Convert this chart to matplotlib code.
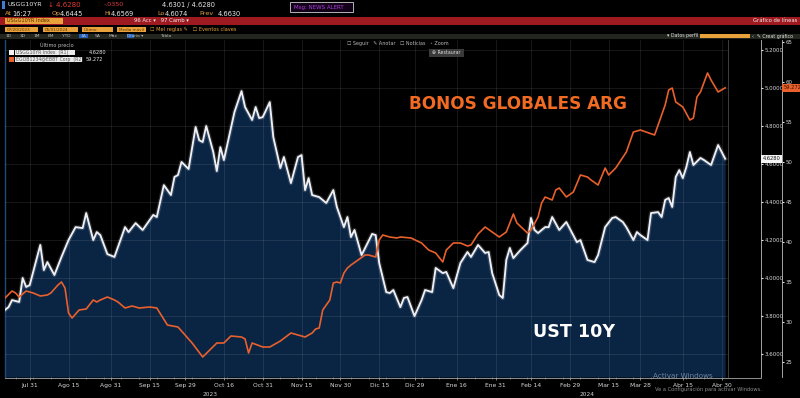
import numpy as np
import matplotlib
matplotlib.use("Agg")
import matplotlib.pyplot as plt
from matplotlib.patches import Rectangle
from matplotlib.lines import Line2D
import matplotlib.transforms as mtransforms

# ---------------- data ----------------
start_date = "2023-07-20"

ust_dates = [
    "2023-07-20", "2023-07-21", "2023-07-24", "2023-07-26", "2023-07-27", "2023-07-28", "2023-07-31",
    "2023-08-03", "2023-08-04", "2023-08-07", "2023-08-09", "2023-08-11", "2023-08-15", "2023-08-17",
    "2023-08-21", "2023-08-22", "2023-08-24", "2023-08-25", "2023-08-28", "2023-08-30", "2023-09-01",
    "2023-09-06", "2023-09-07", "2023-09-11", "2023-09-13", "2023-09-18", "2023-09-19", "2023-09-21",
    "2023-09-25", "2023-09-26", "2023-09-27", "2023-09-28", "2023-10-02", "2023-10-04", "2023-10-05",
    "2023-10-06", "2023-10-09", "2023-10-11", "2023-10-12", "2023-10-13", "2023-10-16", "2023-10-19",
    "2023-10-23", "2023-10-24", "2023-10-26", "2023-10-27", "2023-10-30", "2023-10-31", "2023-11-02",
    "2023-11-03", "2023-11-07", "2023-11-08", "2023-11-10", "2023-11-14", "2023-11-15", "2023-11-16",
    "2023-11-17", "2023-11-20", "2023-11-22", "2023-11-24", "2023-11-28", "2023-11-29", "2023-12-01",
    "2023-12-04", "2023-12-05", "2023-12-06", "2023-12-08", "2023-12-13", "2023-12-14", "2023-12-15",
    "2023-12-19", "2023-12-20", "2023-12-21", "2023-12-25", "2023-12-26", "2023-12-27", "2023-12-29",
    "2024-01-02", "2024-01-03", "2024-01-05", "2024-01-08", "2024-01-10", "2024-01-11", "2024-01-15",
    "2024-01-17", "2024-01-19", "2024-01-22", "2024-01-24", "2024-01-26", "2024-01-29", "2024-01-30",
    "2024-02-01", "2024-02-02", "2024-02-05", "2024-02-06", "2024-02-07", "2024-02-09", "2024-02-13",
    "2024-02-14", "2024-02-15", "2024-02-16", "2024-02-20", "2024-02-21", "2024-02-22", "2024-02-26",
    "2024-02-28", "2024-03-04", "2024-03-05", "2024-03-06", "2024-03-07", "2024-03-11", "2024-03-12",
    "2024-03-14", "2024-03-18", "2024-03-19", "2024-03-21", "2024-03-22", "2024-03-26", "2024-03-27",
    "2024-03-28", "2024-04-01", "2024-04-02", "2024-04-04", "2024-04-05", "2024-04-08", "2024-04-09",
    "2024-04-10", "2024-04-11", "2024-04-12", "2024-04-15", "2024-04-16", "2024-04-17", "2024-04-18",
    "2024-04-22", "2024-04-23", "2024-04-25", "2024-04-29", "2024-05-01",
]
ust_values = [
    3.832, 3.847, 3.884, 3.874, 4.000, 3.953, 3.963,
    4.174, 4.042, 4.084, 4.016, 4.111, 4.200, 4.268,
    4.263, 4.342, 4.200, 4.242, 4.226, 4.126, 4.111,
    4.268, 4.242, 4.289, 4.253, 4.332, 4.321, 4.489,
    4.437, 4.532, 4.542, 4.611, 4.574, 4.795, 4.726,
    4.716, 4.800, 4.663, 4.563, 4.689, 4.621, 4.874,
    4.984, 4.900, 4.832, 4.900, 4.842, 4.847, 4.926,
    4.742, 4.579, 4.637, 4.500, 4.637, 4.647, 4.463,
    4.526, 4.437, 4.426, 4.395, 4.463, 4.374, 4.268,
    4.321, 4.216, 4.253, 4.121, 4.232, 4.226, 4.079,
    3.926, 3.921, 3.937, 3.847, 3.895, 3.900, 3.800,
    3.884, 3.937, 3.926, 4.053, 4.026, 4.032, 3.947,
    4.079, 4.137, 4.111, 4.174, 4.132, 4.137, 4.026,
    3.911, 3.895, 4.095, 4.158, 4.105, 4.147, 4.184,
    4.316, 4.253, 4.237, 4.268, 4.268, 4.321, 4.253,
    4.295, 4.189, 4.200, 4.147, 4.095, 4.084, 4.121,
    4.268, 4.316, 4.321, 4.295, 4.268, 4.200, 4.242,
    4.226, 4.200, 4.342, 4.347, 4.321, 4.411, 4.421,
    4.374, 4.532, 4.568, 4.526, 4.584, 4.663, 4.595,
    4.632, 4.621, 4.595, 4.700, 4.628,
]

arg_dates = [
    "2023-07-20", "2023-07-24", "2023-07-25", "2023-07-26", "2023-07-28", "2023-08-01", "2023-08-03",
    "2023-08-07", "2023-08-08", "2023-08-10", "2023-08-11", "2023-08-14", "2023-08-15", "2023-08-16",
    "2023-08-18", "2023-08-22", "2023-08-24", "2023-08-25", "2023-08-28", "2023-08-30", "2023-09-01",
    "2023-09-04", "2023-09-06", "2023-09-08", "2023-09-12", "2023-09-15", "2023-09-19", "2023-09-22",
    "2023-09-27", "2023-10-03", "2023-10-06", "2023-10-10", "2023-10-12", "2023-10-16", "2023-10-18",
    "2023-10-23", "2023-10-24", "2023-10-25", "2023-10-26", "2023-10-31", "2023-11-02", "2023-11-07",
    "2023-11-10", "2023-11-16", "2023-11-20", "2023-11-21", "2023-11-22", "2023-11-23", "2023-11-27",
    "2023-11-28", "2023-11-29", "2023-11-30", "2023-12-01", "2023-12-04", "2023-12-05", "2023-12-07",
    "2023-12-11", "2023-12-12", "2023-12-14", "2023-12-15", "2023-12-18", "2023-12-20", "2023-12-22",
    "2023-12-25", "2023-12-28", "2024-01-02", "2024-01-04", "2024-01-08", "2024-01-10", "2024-01-11",
    "2024-01-15", "2024-01-17", "2024-01-19", "2024-01-22", "2024-01-24", "2024-01-26", "2024-02-01",
    "2024-02-05", "2024-02-07", "2024-02-08", "2024-02-13", "2024-02-14", "2024-02-16", "2024-02-19",
    "2024-02-20", "2024-02-22", "2024-02-23", "2024-02-26", "2024-02-28", "2024-03-01", "2024-03-05",
    "2024-03-07", "2024-03-08", "2024-03-12", "2024-03-14", "2024-03-15", "2024-03-19", "2024-03-22",
    "2024-03-26", "2024-03-28", "2024-04-03", "2024-04-04", "2024-04-08", "2024-04-09", "2024-04-10",
    "2024-04-11", "2024-04-15", "2024-04-17", "2024-04-18", "2024-04-19", "2024-04-22", "2024-04-24",
    "2024-04-25", "2024-04-29", "2024-05-01",
]
arg_values = [
    33.000, 33.875, 33.625, 33.125, 33.875, 33.625, 33.250,
    33.375, 33.625, 34.625, 35.000, 34.250, 31.125, 30.500,
    31.500, 31.625, 32.750, 32.500, 32.750, 33.125, 32.750,
    32.500, 31.750, 32.000, 31.750, 31.875, 31.750, 29.625,
    29.375, 27.375, 25.625, 26.500, 27.375, 27.375, 28.250,
    28.125, 27.875, 26.125, 27.375, 26.875, 26.875, 27.625,
    28.625, 28.125, 28.625, 29.125, 29.250, 31.500, 32.750,
    34.875, 35.000, 34.875, 36.125, 36.750, 37.125, 37.750,
    38.375, 38.375, 38.125, 40.250, 40.875, 40.625, 40.500,
    40.625, 40.500, 39.875, 39.000, 38.625, 37.500, 39.000,
    39.875, 39.875, 39.500, 39.625, 41.000, 41.875, 40.625,
    41.250, 43.500, 42.375, 41.125, 41.500, 43.125, 44.875,
    45.625, 45.250, 46.500, 46.750, 45.625, 46.250, 48.375,
    48.125, 47.750, 47.125, 49.250, 48.375, 49.250, 51.250,
    53.750, 54.000, 53.375, 54.625, 57.125, 59.000, 59.250,
    57.500, 56.875, 55.250, 55.500, 58.125, 58.750, 61.125,
    60.250, 58.750, 59.272,
]

tick_dates = [
    "2023-07-31", "2023-08-15", "2023-08-31", "2023-09-15", "2023-09-29", "2023-10-16",
    "2023-10-31", "2023-11-15", "2023-11-30", "2023-12-15", "2023-12-29", "2024-01-16",
    "2024-01-31", "2024-02-14", "2024-02-29", "2024-03-15", "2024-03-28", "2024-04-15",
    "2024-04-30",
]
tick_labels = [
    "Jul 31", "Ago 15", "Ago 31", "Sep 15", "Sep 29", "Oct 16", "Oct 31", "Nov 15",
    "Nov 30", "Dic 15", "Dic 29", "Ene 16", "Ene 31", "Feb 14", "Feb 29", "Mar 15",
    "Mar 28", "Abr 15", "Abr 30",
]
year_dates = ["2023-10-10", "2024-03-07"]
year_labels = ["2023", "2024"]

ust_ticks = [3.6, 3.8, 4.0, 4.2, 4.4, 4.6, 4.8, 5.0, 5.2]
arg_ticks = [25, 30, 35, 40, 45, 50, 55, 60, 65]
ust_last = 4.6280
arg_last = 59.272

# ---------------- positions on a trading-day scale ----------------
def bpos(dates):
    return np.busday_count(start_date, np.array(dates, dtype="datetime64[D]"))

ust_x = bpos(ust_dates)
arg_x = bpos(arg_dates)
tick_x = bpos(tick_dates)
year_x = bpos(year_dates)

# ---------------- figure ----------------
W, H = 800, 398
fig = plt.figure(figsize=(8.0, 3.98), dpi=100, facecolor="black")
plt.rcParams["font.family"] = ["DejaVu Sans"]


def fx(x):
    return x / W


def fy(y):
    return 1 - y / H


def rect(x0, y0, x1, y1, fc, ec="none", lw=0.0, z=1):
    fig.add_artist(Rectangle((fx(x0), fy(y1)), (x1 - x0) / W, (y1 - y0) / H,
                             transform=fig.transFigure, facecolor=fc,
                             edgecolor=ec, linewidth=lw, zorder=z))


def txt(x, y, s, c="#e6e6e6", fs=4.6, **kw):
    fig.text(fx(x), fy(y), s, color=c, fontsize=fs, va="center", zorder=5, **kw)


ORANGE_UI = "#e9a23b"
LBL = "#e0a040"

# ---- header row 1
rect(2, 1, 4.5, 9, "#3b7dd8")
txt(8, 5, "USGG10YR", "#e8e8e8", 4.6)
txt(48, 5, "↓ 4.6280", "#e23b3b", 5.0)
txt(104, 5, "-.0350", "#e23b3b", 4.6)
txt(162, 5, "4.6301 / 4.6280", "#e8e8e8", 4.8)
rect(290, 2, 353, 12, "#120018", ec="#d0d0d0", lw=0.6)
txt(294, 7, "Msg: NEWS ALERT", "#b040e0", 4.0)

# ---- header row 2
for x_l, lab, x_v, val in [(5, "At", 12, "16:27"), (52, "Op", 60, "4.6445"),
                          (104, "Hi", 111, "4.6569"), (157, "Lo", 165, "4.6074"),
                          (199, "Prev", 218, "4.6630")]:
    txt(x_l, 13.5, lab, LBL, 4.6)
    txt(x_v, 13.5, val, "#e8e8e8", 4.8)

# ---- red bar
rect(0, 17, 800, 24.5, "#9e1a20")
rect(5, 18, 63, 23.5, ORANGE_UI)
txt(7, 20.8, "USGG10YR Index", "#5a3000", 3.6)
txt(134, 20.8, "96 Acc ▾   97 Camb ▾", "#f0f0f0", 3.8)
txt(797, 20.8, "Gráfico de líneas", "#f0f0f0", 3.8, ha="right")

# ---- row 4 (date boxes)
for a, b, s in [(5, 38, "07/20/2023"), (43, 78, "05/01/2024"), (82, 113, "Último"),
                (117, 146, "Media móvil")]:
    rect(a, 27, b, 32, ORANGE_UI)
    txt(a + 2, 29.6, s, "#5a3000", 3.0)
txt(150, 29.6, "☐ Mel reglas ✎   ☐ Eventos claves", ORANGE_UI, 3.6)

# ---- row 5 (toolbar)
rect(0, 33.5, 800, 38.5, "#23251f")
xpos = 6
for s in ["1D", "3D", "1M", "6M", "YTD", "1A", "5A", "Máx", "Diario ▾"]:
    if s == "1A":
        rect(xpos - 1.5, 33.8, xpos + 7, 38.2, "#1f5fbf")
    txt(xpos, 36, s, "#bdbdbd", 3.2)
    xpos += 4.5 * len(s) + 5
rect(127, 33.8, 134, 38.2, "#1f5fbf")
txt(160, 36, "Tabla", "#bdbdbd", 3.2)
txt(667, 36, "▾ Datos perfil", "#e0e0e0", 3.4)
rect(700, 33.6, 750, 38.4, ORANGE_UI)
txt(752, 36, "‹  ✎ Creat gráfico", "#e0e0e0", 3.4)

# ---- main axes
ax_l, ax_r, ax_t, ax_b = 5, 728, 40, 377
ax = fig.add_axes([fx(ax_l), fy(ax_b), (ax_r - ax_l) / W, (ax_b - ax_t) / H])
ax.set_facecolor("black")
ust_lo, ust_hi = 3.479, 5.253
ax.set_xlim(0, 204.8)
ax.set_ylim(ust_lo, ust_hi)

# secondary axis (Argentine bonds) created first so the primary ticks stay right
ax2 = ax.twinx()
ax2.set_ylim(23.125, 65.25)

ax.fill_between(ust_x, ust_values, ust_lo, color="#0a2444", lw=0, zorder=1)
ax.plot(ust_x, ust_values, color="white", lw=3.2, alpha=0.15, zorder=3,
        solid_joinstyle="round")
ax.plot(ust_x, ust_values, color="#eef0f6", lw=1.35, zorder=4,
        solid_joinstyle="round")

ax.set_xticks(tick_x)
ax.set_xticklabels(tick_labels)
ax.set_xticks(np.arange(3, 205, 5), minor=True)
ax.set_yticks(ust_ticks)
ax.set_yticklabels([f"{v:.4f}" for v in ust_ticks])
ax.set_axisbelow(False)
ax.grid(True, which="major", color="white", alpha=0.09, lw=0.8)

ax.tick_params(axis="x", which="major", length=2, width=0.6, color="#9a9a9a",
               labelsize=4.3, labelcolor="#d8d8d8", pad=2.5)
ax.tick_params(axis="x", which="minor", length=1.3, width=0.5, color="#7a7a7a")
ax.yaxis.tick_right()
ax.tick_params(axis="y", which="major", left=False, labelleft=False,
               right=True, labelright=True, direction="out", length=1.5,
               width=0.8, color="#e0e0e0", labelsize=3.9, labelcolor="#d8d8d8",
               pad=1)

for s in ["top", "bottom"]:
    ax.spines[s].set_visible(False)
ax.spines["left"].set_color("#1f4a80")
ax.spines["left"].set_linewidth(1.0)
ax.spines["right"].set_position(("axes", (761 - ax_l) / (ax_r - ax_l)))
ax.spines["right"].set_color("#bdbdbd")
ax.spines["right"].set_linewidth(0.6)

# frame line at plot edge and x axis base
ax.add_line(Line2D([1, 1], [0, 1], transform=ax.transAxes, color="#4a4a4a",
                   lw=0.6, clip_on=False, zorder=6))
ax.add_line(Line2D([0, (761 - ax_l) / (ax_r - ax_l)], [-0.003, -0.003],
                   transform=ax.transAxes, color="#a8a8a8", lw=0.6,
                   clip_on=False, zorder=6))

# year labels
trans_xb = mtransforms.blended_transform_factory(ax.transData, ax.transAxes)
for xv, lab in zip(year_x, year_labels):
    ax.text(xv, -0.045, lab, transform=trans_xb, fontsize=4.2, color="#d0d0d0",
            ha="center", va="top", clip_on=False)

# orange series on secondary axis
ax2.plot(arg_x, arg_values, color="#e8602c", lw=1.2, zorder=5,
         solid_joinstyle="round")
ax2.set_yticks(arg_ticks)
ax2.set_yticklabels([str(v) for v in arg_ticks])
for s in ["top", "bottom", "left"]:
    ax2.spines[s].set_visible(False)
ax2.spines["right"].set_position(("axes", (782 - ax_l) / (ax_r - ax_l)))
ax2.spines["right"].set_color("#bdbdbd")
ax2.spines["right"].set_linewidth(0.6)
ax2.tick_params(axis="y", direction="out", length=1.5, width=0.8,
                color="#e0e0e0", labelsize=3.9, labelcolor="#d8d8d8", pad=1)

# last value tags
t1 = mtransforms.blended_transform_factory(ax.transAxes, ax.transData)
ax.text((761 - ax_l) / (ax_r - ax_l) + 0.002, ust_last, f"{ust_last:.4f}",
        transform=t1, fontsize=3.7, color="#111111", ha="left", va="center",
        bbox=dict(boxstyle="square,pad=0.3", fc="#f4f4f4", ec="none"),
        clip_on=False, zorder=10)
t2 = mtransforms.blended_transform_factory(ax2.transAxes, ax2.transData)
ax2.text((782 - ax_l) / (ax_r - ax_l) + 0.002, arg_last, f"{arg_last:.3f}",
         transform=t2, fontsize=3.7, color="#3a1000", ha="left", va="center",
         bbox=dict(boxstyle="square,pad=0.3", fc="#e8602c", ec="none"),
         clip_on=False, zorder=10)

# ---- overlays inside chart
txt(347, 43.5, "☐ Seguir   ✎ Anotar   ☐ Noticias   ◦ Zoom", "#b8b8b8", 3.5)
rect(429, 49, 464, 56.5, "#3a3a3a", z=4)
txt(432, 52.7, "⊕ Restaurar", "#dcdcdc", 3.4)

txt(40, 45.5, "Último precio", "#bdbdbd", 3.6)
rect(9, 50, 13.5, 54.5, "#f2f2f2", z=4)
rect(15, 49.5, 75, 55, "#e9e9e9", z=4)
txt(16.5, 52.3, "USGG10YR Index  (R1)", "#555555", 3.3)
txt(89, 52.3, "4.6280", "#e8e8e8", 3.6)
rect(9, 57, 13.5, 61.5, "#e8602c", z=4)
rect(15, 56.5, 82, 62, "#e9e9e9", z=4)
txt(16.5, 59.3, "EGOB1234@EBBT Corp  (R2)", "#555555", 3.3)
txt(86, 59.3, "59.272", "#e8e8e8", 3.6)

fig.text(fx(518), fy(104), "BONOS GLOBALES ARG", color="#f26b22", fontsize=12.2,
         fontweight="bold", ha="center", va="center", zorder=6)
fig.text(fx(574.5), fy(332), "UST 10Y", color="white", fontsize=12.6,
         fontweight="bold", ha="center", va="center", zorder=6)

# watermark
txt(653, 376.5, "Activar Windows", "#6f819a", 5.2)
txt(655, 389.5, "Ve a Configuración para activar Windows.", "#8c8c8c", 3.7)

fig.savefig("out.png", dpi=100, facecolor="black")
